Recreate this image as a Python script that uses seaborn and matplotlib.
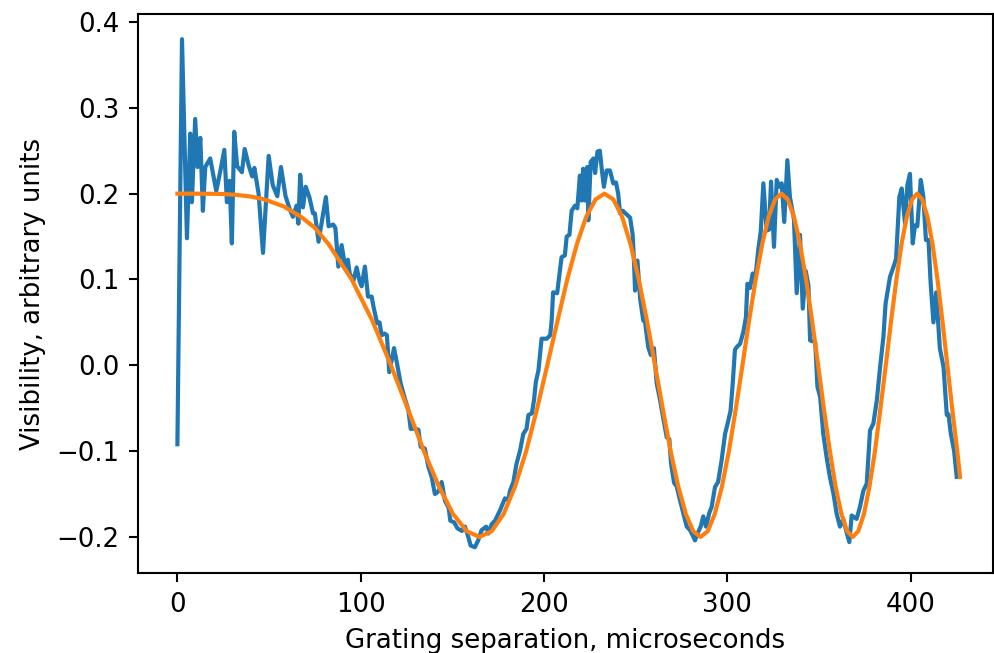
import matplotlib
matplotlib.use("Agg")
import matplotlib.pyplot as plt
import seaborn as sns
import pandas as pd

sep_us = [0, 2.5, 5.2, 7.0, 7.9, 9.7, 11.0, 12.5, 13.9, 15.2, 17.9, 21.2, 23.4, 25.6, 27.0,
          28.5, 29.7, 31.0, 32.6, 35.2, 36.7, 39.0, 40.8, 42.0, 44.3, 46.7, 49.8, 52.0, 54.5,
          56.5, 59.0, 61.6, 63.0, 65.0, 66.0, 67.0, 68.5, 70.0, 72.0, 74.0, 75.0, 77.0, 79.0,
          81.0, 82.5, 85.0, 86.2, 87.8, 89.6, 91.5, 93.0, 94.0, 96.0, 97.8, 99.4, 100.5, 102.3,
          104.0, 106.0, 107.0, 109.0, 110.3, 111.4, 113.0, 114.3, 115.6, 118.2, 120.0, 121.8,
          124.0, 126.0, 127.3, 129.7, 131.5, 132.7, 135.0, 136.9, 138.7, 140.5, 142.4, 144.2,
          146.0, 148.0, 148.9, 151.0, 152.8, 155.2, 156.9, 158.7, 160.0, 162.3, 164.1, 166.0,
          168.5, 169.7, 171.5, 173.3, 176.0, 178.7, 180.5, 181.5, 183.3, 185.0, 187.0, 188.7,
          190.5, 191.5, 193.4, 194.6, 195.6, 197.0, 198.7, 201.5, 203.4, 204.2, 205.0, 207.2,
          209.6, 211.4, 212.4, 213.9, 215.1, 216.9, 218.2, 219.6, 220.5, 221.4, 222.3, 223.6,
          224.2, 225.5, 227.0, 227.9, 229.2, 230.5, 231.4, 232.7, 234.2, 236.0, 237.8, 239.3,
          240.5, 241.5, 243.0, 245.0, 247.0, 248.4, 249.1, 249.7, 251.0, 252.5, 254.2, 255.0,
          256.9, 258.3, 260.0, 261.5, 263.3, 265.2, 267.0, 268.4, 269.3, 271.0, 272.4, 274.2,
          276.0, 277.9, 279.7, 281.1, 282.4, 284.2, 285.5, 286.9, 288.4, 290.2, 291.5, 293.3,
          295.0, 296.9, 298.8, 300.2, 301.8, 303.0, 304.2, 305.1, 307.0, 308.8, 310.2, 311.0,
          312.4, 313.9, 315.1, 317.0, 318.3, 319.7, 321.5, 322.8, 323.9, 325.5, 327.0, 328.4,
          329.7, 331.1, 332.8, 334.2, 336.4, 337.9, 339.7, 341.2, 342.8, 344.3, 345.2, 348.0,
          349.2, 350.7, 352.4, 354.2, 356.0, 357.9, 359.7, 361.5, 363.3, 364.8, 366.6, 367.9,
          369.2, 370.6, 372.4, 374.3, 376.1, 377.9, 379.7, 381.6, 383.4, 385.2, 386.4, 388.8,
          390.6, 392.1, 393.9, 395.2, 397.0, 398.3, 399.7, 401.2, 402.4, 403.7, 405.6, 407.0,
          408.4, 409.8, 411.0, 412.5, 414.0, 416.0, 418.0, 419.8, 420.7, 422.0, 423.8, 425.2]
visibility = [-0.092, 0.38, 0.148, 0.27, 0.19, 0.287, 0.231, 0.265, 0.18, 0.231, 0.241, 0.203,
              0.226, 0.251, 0.19, 0.215, 0.142, 0.272, 0.232, 0.225, 0.252, 0.232, 0.22, 0.23,
              0.20, 0.131, 0.244, 0.21, 0.197, 0.231, 0.197, 0.18, 0.173, 0.186, 0.165, 0.222,
              0.184, 0.208, 0.196, 0.177, 0.177, 0.144, 0.17, 0.196, 0.162, 0.164, 0.16, 0.115,
              0.14, 0.115, 0.123, 0.107, 0.098, 0.114, 0.098, 0.092, 0.115, 0.08, 0.08, 0.068,
              0.049, 0.05, 0.035, 0.037, 0.035, -0.008, 0.02, 0.0, -0.021, -0.038, -0.052,
              -0.074, -0.074, -0.075, -0.095, -0.097, -0.118, -0.13, -0.15, -0.147, -0.136,
              -0.158, -0.166, -0.181, -0.183, -0.19, -0.193, -0.188, -0.20, -0.21, -0.212,
              -0.204, -0.192, -0.188, -0.196, -0.185, -0.181, -0.169, -0.155, -0.157, -0.146,
              -0.136, -0.115, -0.099, -0.08, -0.074, -0.058, -0.056, -0.04, -0.019, -0.006,
              0.031, 0.031, 0.035, 0.052, 0.085, 0.084, 0.126, 0.128, 0.15, 0.152, 0.18, 0.186,
              0.183, 0.221, 0.192, 0.229, 0.192, 0.231, 0.169, 0.237, 0.241, 0.224, 0.249, 0.25,
              0.231, 0.208, 0.227, 0.227, 0.212, 0.213, 0.20, 0.177, 0.18, 0.176, 0.172, 0.152,
              0.122, 0.087, 0.122, 0.077, 0.052, 0.053, 0.021, 0.012, 0.02, -0.021, -0.04,
              -0.063, -0.084, -0.086, -0.114, -0.137, -0.141, -0.157, -0.172, -0.188, -0.192,
              -0.198, -0.204, -0.194, -0.188, -0.176, -0.188, -0.172, -0.165, -0.142, -0.136,
              -0.111, -0.08, -0.068, -0.053, -0.021, 0.018, 0.021, 0.025, 0.039, 0.056, 0.095,
              0.09, 0.107, 0.097, 0.136, 0.156, 0.212, 0.157, 0.158, 0.214, 0.138, 0.216, 0.208,
              0.212, 0.167, 0.239, 0.196, 0.17, 0.084, 0.152, 0.066, 0.11, 0.093, 0.029, 0.027,
              -0.025, -0.037, -0.08, -0.107, -0.13, -0.149, -0.173, -0.188, -0.179, -0.192,
              -0.206, -0.175, -0.177, -0.179, -0.165, -0.146, -0.138, -0.076, -0.068, -0.041,
              -0.002, 0.033, 0.072, 0.103, 0.114, 0.124, 0.196, 0.206, 0.165, 0.21, 0.223,
              0.142, 0.163, 0.162, 0.216, 0.196, 0.146, 0.146, 0.095, 0.05, 0.085, 0.02, -0.002,
              -0.058, -0.057, -0.08, -0.10, -0.13]

# Fitted curve (orange)
fit_sep = [0, 16, 24, 32, 40, 47.6, 58, 67.3, 75, 82.4, 95.1, 106.4, 116.5, 125.9, 134.5,
           142.7, 150.4, 157.8, 164.8, 171.5, 178.0, 184.2, 190.3, 196.1, 201.8, 207.4, 212.7,
           218.0, 223.1, 228.1, 233.0, 237.9, 242.6, 247.2, 251.7, 256.2, 260.6, 264.9, 269.1,
           273.3, 277.4, 281.4, 285.4, 289.4, 293.2, 297.1, 300.9, 304.6, 308.3, 311.9, 315.5,
           319.1, 322.6, 326.1, 329.6, 333.0, 336.4, 339.7, 343.0, 346.3, 349.6, 352.8, 356.0,
           359.1, 362.3, 365.4, 368.5, 371.5, 374.6, 377.6, 380.6, 383.5, 386.5, 389.4, 392.3,
           395.1, 398.0, 400.8, 403.6, 406.4, 409.2, 412.0, 414.7, 417.4, 420.1, 422.8, 425.5,
           427.0]
fit_vis = [0.2, 0.1999, 0.1996, 0.1986, 0.1966, 0.1932, 0.1851, 0.1732, 0.1602, 0.1414, 0.1,
           0.0518, 0.0, -0.0518, -0.1, -0.1414, -0.1732, -0.1932, -0.2, -0.1932, -0.1732,
           -0.1414, -0.1, -0.0518, 0.0, 0.0518, 0.1, 0.1414, 0.1732, 0.1932, 0.2, 0.1932,
           0.1732, 0.1414, 0.1, 0.0518, 0.0, -0.0518, -0.1, -0.1414, -0.1732, -0.1932, -0.2,
           -0.1932, -0.1732, -0.1414, -0.1, -0.0518, 0.0, 0.0518, 0.1, 0.1414, 0.1732, 0.1932,
           0.2, 0.1932, 0.1732, 0.1414, 0.1, 0.0518, 0.0, -0.0518, -0.1, -0.1414, -0.1732,
           -0.1932, -0.2, -0.1932, -0.1732, -0.1414, -0.1, -0.0518, 0.0, 0.0518, 0.1, 0.1414,
           0.1732, 0.1932, 0.2, 0.1932, 0.1732, 0.1414, 0.1, 0.0518, 0.0, -0.0518, -0.1, -0.13]

x_ticks = [0, 100, 200, 300, 400]
y_ticks = [-0.2, -0.1, 0.0, 0.1, 0.2, 0.3, 0.4]

data_df = pd.DataFrame({"sep": sep_us, "vis": visibility})
fit_df = pd.DataFrame({"sep": fit_sep, "vis": fit_vis})

fig = plt.figure(figsize=(994 / 150, 653 / 150), dpi=150)
ax = fig.add_axes([138 / 994, 80 / 653, 855 / 994, 559 / 653])

sns.lineplot(data=data_df, x="sep", y="vis", ax=ax, color="#1f77b4", linewidth=2.0,
             estimator=None, sort=False)
sns.lineplot(data=fit_df, x="sep", y="vis", ax=ax, color="#ff7f0e", linewidth=2.0,
             estimator=None, sort=False)

ax.set_xlim(-21.5, 445)
ax.set_ylim(-0.242, 0.4093)
ax.set_xticks(x_ticks)
ax.set_yticks(y_ticks)
ax.set_xlabel("Grating separation, microseconds", fontsize=12.5, labelpad=5)
ax.set_ylabel("Visibility, arbitrary units", fontsize=12.5, labelpad=5)
ax.tick_params(labelsize=12.5, length=4.5, width=1.0, pad=4.5)
for s in ax.spines.values():
    s.set_linewidth(1.0)

fig.savefig("out.png", dpi=150)
